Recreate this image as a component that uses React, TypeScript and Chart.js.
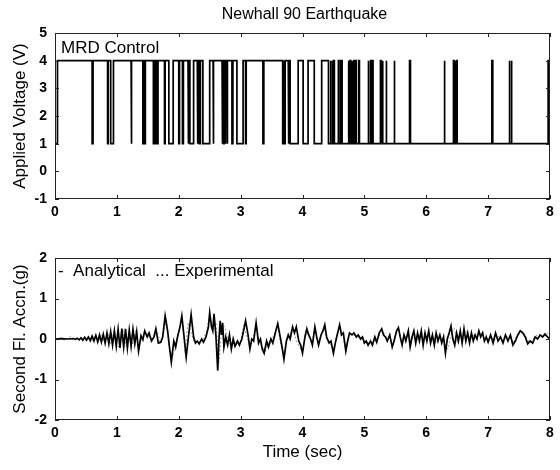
import React, { useEffect, useRef } from "react";
import { Chart, registerables } from "chart.js";

Chart.register(...registerables);

const FONT = "'Liberation Sans', Arial, Helvetica, sans-serif";

// ---------- data ----------
const chartTitle = "Newhall 90 Earthquake";
const timeTicks = [0, 1, 2, 3, 4, 5, 6, 7, 8];
const voltageTicks = [-1, 0, 1, 2, 3, 4, 5];
const accelTicks = [-2, -1, 0, 1, 2];

// MRD control voltage: starts at the low level, toggles between 1 V and 4 V at these times (s)
const voltageLow = 1;
const voltageHigh = 4;
const voltageSwitchTimes = [
  0.04,
  0.6, 0.615,
  0.85, 0.86,
  0.9, 0.945,
  1.23, 1.24,
  1.42, 1.43, 1.44, 1.46,
  1.59, 1.6, 1.625, 1.635, 1.655, 1.665,
  1.77, 1.78,
  1.84, 1.91,
  2.0, 2.012,
  2.06, 2.075,
  2.15, 2.16, 2.18, 2.24,
  2.3, 2.31, 2.33, 2.35,
  2.39, 2.5,
  2.555, 2.565,
  2.7, 2.71, 2.725, 2.735, 2.75, 2.76, 2.78, 2.79,
  2.86, 2.875,
  2.94, 3.04,
  3.08, 3.09,
  3.36, 3.375,
  3.68, 3.69, 3.7, 3.72,
  3.77, 3.78,
  3.8, 3.93,
  4.01, 4.09,
  4.19, 4.31,
  4.42,
  4.45, 4.46, 4.48, 4.49, 4.5, 4.515,
  4.58, 4.59, 4.62, 4.64,
  4.74, 4.75, 4.765, 4.78, 4.8, 4.81, 4.83, 4.84, 4.86, 4.87,
  4.91, 4.92,
  5.06, 5.07, 5.1, 5.11, 5.13, 5.14,
  5.26, 5.27, 5.29, 5.3,
  5.35, 5.36,
  5.48, 5.49,
  5.73, 5.745,
  6.29, 6.3,
  6.44, 6.45, 6.47, 6.48, 6.49, 6.5,
  7.06, 7.075,
  7.34, 7.35, 7.37, 7.385,
  7.97, 7.985,
];

// Second floor acceleration, analytical (time s, accel g)
const analyticalAccel: [number, number][] = [
  [0, 0], [0.1, 0.01], [0.2, 0], [0.3, 0.01], [0.33, -0.01], [0.36, 0.02], [0.39, -0.02], [0.42, 0.03],
  [0.45, -0.03], [0.48, 0.04], [0.51, -0.03], [0.54, 0.05], [0.57, -0.04], [0.6, 0.07], [0.63, -0.05],
  [0.66, 0.09], [0.69, -0.07], [0.72, 0.1], [0.75, -0.08], [0.78, 0.12], [0.81, -0.1], [0.84, 0.15],
  [0.87, -0.12], [0.9, 0.18], [0.93, -0.15], [0.96, 0.2], [0.99, -0.18], [1.02, 0.24], [1.05, -0.22],
  [1.08, 0.26], [1.11, -0.2], [1.14, 0.25], [1.17, -0.22], [1.2, 0.22], [1.23, -0.18], [1.26, 0.24],
  [1.29, -0.12], [1.32, 0.18], [1.35, -0.3], [1.39, 0.08], [1.42, -0.02], [1.45, 0.2], [1.49, 0.05],
  [1.52, 0.15], [1.56, -0.05], [1.6, 0.05], [1.63, 0.25], [1.67, -0.1], [1.71, -0.08], [1.74, 0.05],
  [1.78, 0.57], [1.82, 0.2], [1.85, -0.2], [1.88, -0.57], [1.92, -0.05], [1.95, -0.2], [1.98, 0.05],
  [2.02, 0.3], [2.05, 0.57], [2.09, 0], [2.12, -0.45], [2.16, 0.1], [2.2, 0.6], [2.24, 0.05],
  [2.27, -0.1], [2.3, -0.05], [2.33, -0.12], [2.37, 0], [2.4, -0.08], [2.44, 0.05], [2.48, 0.3],
  [2.5, 0.65], [2.53, 0.3], [2.55, 0.2], [2.57, 0.62], [2.6, 0.1], [2.63, -0.78], [2.65, 0],
  [2.67, 0.45], [2.69, 0.1], [2.71, 0.4], [2.73, -0.2], [2.76, 0.05], [2.79, -0.15], [2.82, 0.1],
  [2.85, -0.25], [2.88, 0], [2.91, -0.18], [2.95, -0.05], [2.98, -0.15], [3.02, 0], [3.08, 0.45],
  [3.12, 0.1], [3.15, -0.25], [3.18, 0], [3.21, -0.05], [3.25, 0.4], [3.29, -0.1], [3.32, 0],
  [3.35, -0.25], [3.38, -0.35], [3.42, -0.05], [3.45, -0.2], [3.49, 0], [3.52, -0.1], [3.56, 0.15],
  [3.6, 0.38], [3.64, 0.05], [3.67, -0.2], [3.7, -0.5], [3.74, -0.05], [3.77, 0.1], [3.8, 0],
  [3.84, 0.3], [3.87, 0.15], [3.9, 0.3], [3.94, -0.05], [3.97, -0.15], [4.0, -0.35], [4.04, 0.05],
  [4.07, 0.25], [4.1, 0.1], [4.13, 0], [4.16, -0.15], [4.2, 0.3], [4.23, 0.05], [4.26, -0.15],
  [4.3, 0.1], [4.33, 0.2], [4.36, 0.35], [4.39, 0.05], [4.43, -0.1], [4.46, -0.05], [4.5, -0.35],
  [4.53, -0.1], [4.56, 0.1], [4.6, 0.35], [4.63, 0.1], [4.66, 0.15], [4.7, -0.3], [4.73, -0.05],
  [4.76, 0.15], [4.8, 0.1], [4.83, 0.15], [4.87, 0.05], [4.9, 0.1], [4.94, 0], [4.97, 0.05],
  [5.0, -0.1], [5.03, -0.05], [5.06, -0.15], [5.1, -0.05], [5.13, -0.15], [5.17, 0.05], [5.2, -0.08],
  [5.24, 0.15], [5.28, 0.25], [5.31, 0.1], [5.34, 0.05], [5.37, -0.05], [5.41, 0.1], [5.45, -0.2],
  [5.48, -0.05], [5.52, 0.2], [5.55, 0.28], [5.58, 0.05], [5.61, -0.15], [5.64, 0.1], [5.67, -0.05],
  [5.71, 0.2], [5.74, -0.2], [5.77, 0.05], [5.8, 0.2], [5.83, -0.1], [5.86, 0.15], [5.89, -0.05],
  [5.92, 0.2], [5.95, -0.15], [5.98, 0.15], [6.01, -0.05], [6.04, 0.2], [6.07, -0.1], [6.1, 0.1],
  [6.13, -0.15], [6.16, 0.15], [6.19, -0.05], [6.22, 0.1], [6.25, -0.1], [6.28, 0.05], [6.31, -0.35],
  [6.34, 0], [6.37, 0.15], [6.4, 0.32], [6.43, 0], [6.46, -0.15], [6.49, 0.15], [6.52, -0.05],
  [6.55, 0.2], [6.58, -0.1], [6.61, 0.25], [6.64, -0.05], [6.67, 0.15], [6.7, -0.1], [6.73, 0.15],
  [6.76, -0.05], [6.79, 0.1], [6.82, 0], [6.85, 0.2], [6.88, 0.05], [6.91, 0.15], [6.94, -0.05],
  [6.97, 0.05], [7.0, -0.08], [7.04, 0.1], [7.08, -0.1], [7.12, 0.15], [7.16, -0.05], [7.2, 0.05],
  [7.24, -0.1], [7.28, 0.1], [7.32, -0.05], [7.36, 0.1], [7.4, -0.15], [7.44, -0.05], [7.48, 0.1],
  [7.52, 0.2], [7.56, 0.15], [7.6, 0.05], [7.64, -0.12], [7.68, -0.05], [7.72, -0.1], [7.76, 0.05],
  [7.8, 0], [7.84, 0.1], [7.88, 0.05], [7.92, 0.12], [7.96, 0.05], [8.0, 0],
];

// Second floor acceleration, experimental, sampled every 0.05 s from t = 0
const experimentalStep = 0.05;
const experimentalAccel = [
  0.04, -0.03, 0.05, -0.04, 0.03, 0.06, -0.05, 0.04, -0.03, 0.05, -0.04,
  0.06, -0.06, 0.08, -0.09, 0.12, -0.1, 0.15, -0.14, 0.19, -0.17,
  -0.2, 0.22, -0.18, 0.2, -0.15, 0.2, -0.25, 0.05, 0.18, 0.08,
  0.0, 0.1, 0.2, -0.08, 0.1, 0.5, -0.25, -0.45, -0.1, 0.15,
  0.55, -0.35, 0.4, 0.15, -0.08, -0.08, -0.05, 0.0, 0.2, 0.6,
  0.25, 0.4, -0.6, 0.35, 0.3, -0.1, -0.15, -0.1, -0.05, -0.05,
  0.35, 0.05, -0.15, 0.0, 0.35, -0.05, -0.2, -0.3, -0.1, -0.05,
  0.15, 0.35, -0.15, -0.4, 0.05, 0.15, 0.28, -0.05, -0.2, -0.3,
  0.2, 0.08, -0.1, 0.25, -0.1, 0.1, 0.3, -0.05, -0.1, -0.3,
  0.05, 0.3, 0.1, -0.25, 0.1, 0.12, 0.08, 0.05, 0.05, -0.05,
  -0.1, -0.1, -0.05, -0.05, 0.1, 0.2, 0.05, 0.05, -0.15, 0.1,
  0.25, -0.1, 0.05, 0.1, -0.15, 0.15, -0.05, 0.15, -0.1, 0.05,
  0.1, 0.05, -0.1, 0.1, 0.05, -0.05, -0.25, 0.1, 0.28, -0.1,
  0.15, 0.0, 0.2, 0.05, 0.1, 0.05, 0.1, 0.15, 0.15, 0.0,
  0.08, -0.05, 0.1, 0.0, -0.05, 0.05, 0.05, -0.1, 0.05, 0.15,
  0.18, 0.1, -0.05, -0.08, 0.05, 0.1, 0.1, 0.12, 0.15, 0.1,
];

const topLabel = "MRD Control";
const bottomLabel = "-  Analytical  ... Experimental";

// ---------- helpers ----------
function buildVoltagePoints() {
  const pts: { x: number; y: number }[] = [];
  let level = voltageLow;
  pts.push({ x: 0, y: level });
  for (const t of voltageSwitchTimes) {
    pts.push({ x: t, y: level });
    level = level === voltageLow ? voltageHigh : voltageLow;
    pts.push({ x: t, y: level });
  }
  pts.push({ x: timeTicks[timeTicks.length - 1], y: level });
  return pts;
}

function framePlugin(extra: (chart: any) => void) {
  return {
    id: "frameTicks",
    afterDatasetsDraw(chart: any) {
      const { ctx, chartArea: a, scales } = chart;
      const xs = scales.x;
      const ys = scales.y;
      ctx.save();
      ctx.strokeStyle = "#222";
      ctx.lineWidth = 1;
      ctx.strokeRect(a.left + 0.5, a.top + 0.5, a.right - a.left - 1, a.bottom - a.top - 1);
      const tl = 4;
      ctx.beginPath();
      for (const t of xs.ticks) {
        const px = Math.round(xs.getPixelForValue(t.value)) + 0.5;
        ctx.moveTo(px, a.bottom);
        ctx.lineTo(px, a.bottom - tl);
        ctx.moveTo(px, a.top);
        ctx.lineTo(px, a.top + tl);
      }
      for (const t of ys.ticks) {
        const py = Math.round(ys.getPixelForValue(t.value)) + 0.5;
        ctx.moveTo(a.left, py);
        ctx.lineTo(a.left + tl, py);
        ctx.moveTo(a.right, py);
        ctx.lineTo(a.right - tl, py);
      }
      ctx.stroke();
      extra(chart);
      ctx.restore();
    },
  };
}

const tickFont = { family: FONT, size: 14, weight: "bold" as const };
const titleFont = { family: FONT, size: 17 };

function xScale(height: number, withTitle: boolean) {
  return {
    type: "linear" as const,
    min: timeTicks[0],
    max: timeTicks[timeTicks.length - 1],
    afterBuildTicks: (s: any) => {
      s.ticks = timeTicks.map((v) => ({ value: v }));
    },
    afterFit: (s: any) => {
      s.height = height;
    },
    grid: { display: false, drawTicks: false, tickLength: 0 },
    border: { display: false },
    ticks: { font: tickFont, color: "#000", padding: 5, maxRotation: 0, autoSkip: false },
    title: withTitle
      ? { display: true, text: "Time (sec)", font: titleFont, color: "#000", padding: { top: 0, bottom: 7 } }
      : { display: false },
  };
}

function yScale(ticks: number[], title: string) {
  return {
    type: "linear" as const,
    min: ticks[0],
    max: ticks[ticks.length - 1],
    afterBuildTicks: (s: any) => {
      s.ticks = ticks.map((v) => ({ value: v }));
    },
    afterFit: (s: any) => {
      s.width = 55;
    },
    grid: { display: false, drawTicks: false, tickLength: 0 },
    border: { display: false },
    ticks: { font: tickFont, color: "#000", padding: 8, autoSkip: false },
    title: { display: true, text: title, font: titleFont, color: "#000", padding: { top: 10, bottom: 0 } },
  };
}

export default function App() {
  const topRef = useRef<HTMLCanvasElement>(null);
  const botRef = useRef<HTMLCanvasElement>(null);

  useEffect(() => {
    Chart.defaults.font.family = FONT;
    const top = new Chart(topRef.current!, {
      type: "line",
      data: {
        datasets: [
          {
            data: buildVoltagePoints(),
            borderColor: "#000",
            borderWidth: 1.7,
            pointRadius: 0,
            tension: 0,
          },
        ],
      },
      options: {
        responsive: false,
        animation: false,
        devicePixelRatio: 1,
        layout: { padding: { top: 33, right: 10, bottom: 0, left: 0 } },
        plugins: { legend: { display: false }, tooltip: { enabled: false }, title: { display: false } },
        scales: { x: xScale(31, false), y: yScale(voltageTicks, "Applied Voltage (V)") },
      },
      plugins: [
        framePlugin((chart: any) => {
          const { ctx, chartArea: a } = chart;
          ctx.fillStyle = "#000";
          ctx.font = `16px ${FONT}`;
          ctx.textAlign = "center";
          ctx.textBaseline = "middle";
          ctx.fillText(chartTitle, (a.left + a.right) / 2 + 2, 15);
          ctx.font = `17px ${FONT}`;
          ctx.textAlign = "left";
          ctx.textBaseline = "alphabetic";
          ctx.fillText(topLabel, a.left + 6, a.top + 20);
        }),
      ],
    });

    const bot = new Chart(botRef.current!, {
      type: "line",
      data: {
        datasets: [
          {
            data: analyticalAccel.map(([x, y]) => ({ x, y })),
            borderColor: "#000",
            borderWidth: 1.7,
            pointRadius: 0,
            tension: 0,
          },
          {
            data: experimentalAccel.map((y, i) => ({ x: i * experimentalStep, y })),
            borderColor: "#888",
            borderWidth: 1,
            borderDash: [1.5, 2.5],
            pointRadius: 0,
            tension: 0,
          },
        ],
      },
      options: {
        responsive: false,
        animation: false,
        devicePixelRatio: 1,
        layout: { padding: { top: 28, right: 10, bottom: 0, left: 0 } },
        plugins: { legend: { display: false }, tooltip: { enabled: false }, title: { display: false } },
        scales: { x: xScale(50, true), y: yScale(accelTicks, "Second Fl. Accn.(g)") },
      },
      plugins: [
        framePlugin((chart: any) => {
          const { ctx, chartArea: a } = chart;
          ctx.fillStyle = "#000";
          ctx.font = `17px ${FONT}`;
          ctx.textAlign = "left";
          ctx.textBaseline = "alphabetic";
          ctx.fillText(bottomLabel, a.left + 3, a.top + 18);
        }),
      ],
    });

    return () => {
      top.destroy();
      bot.destroy();
    };
  }, []);

  return (
    <div style={{ position: "absolute", left: 0, top: 0, width: 560, height: 470, background: "#fff" }}>
      <canvas ref={topRef} width={560} height={230} style={{ display: "block", width: 560, height: 230 }} />
      <canvas ref={botRef} width={560} height={240} style={{ display: "block", width: 560, height: 240 }} />
    </div>
  );
}
